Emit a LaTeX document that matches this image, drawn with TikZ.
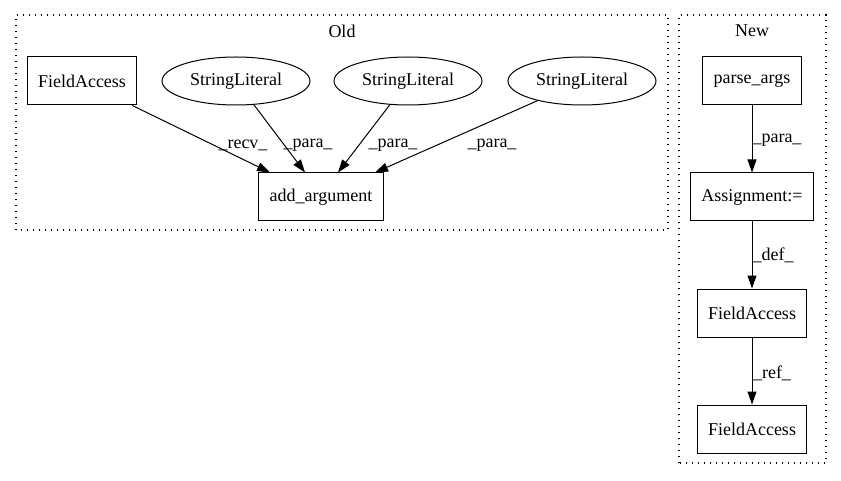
\documentclass[tikz,border=0pt]{standalone}
\usepackage{fontspec}
\setmainfont{Liberation Serif}
\usetikzlibrary{positioning, arrows.meta, shapes.geometric}

\begin{document}
\begin{tikzpicture}[x=1pt, y=1pt,
    every node/.style={font=\fontsize{18}{21}\selectfont},
    box/.style={draw, rectangle, line width=1pt, minimum height=48pt, inner xsep=11pt},
    lit/.style={draw, ellipse, line width=1pt, minimum width=148pt, minimum height=48pt, inner sep=0pt},
    elabel/.style={inner sep=0pt},
    link/.style={line width=1pt, -{Triangle[length=13pt,width=9pt]}},
    cluster/.style={draw, line width=1.2pt, dash pattern=on 1.2pt off 4.8pt}]
  \useasboundingbox (0,0) rectangle (841,480);

  % clusters
  \draw[cluster] (16,250) rectangle (668,465);
  \node (oldtitle) at (342,449) {Old};
  \draw[cluster] (679,17) rectangle (826,465);
  \node (newtitle) at (752,449) {New};

  % old
  \node[box] (fa) at (82,399) {FieldAccess};
  \node[lit, on grid, right=154pt of fa] (sl1) {StringLiteral};
  \node[lit, on grid, right=172pt of sl1] (sl2) {StringLiteral};
  \node[lit, on grid, right=174pt of sl2] (sl3) {StringLiteral};
  \node[box] (aa) at (321,283) {add\_argument};

  \draw[link] (fa) -- ([xshift=-51pt]aa.north);
  \draw[link] (sl1) -- ([xshift=-16pt]aa.north);
  \draw[link] (sl2) -- ([xshift=17pt]aa.north);
  \draw[link] (sl3) -- ([xshift=54pt]aa.north);
  \node[elabel] (lrecv) at (243,335) {\_recv\_};
  \node[elabel] (lpara1) at (308,335) {\_para\_};
  \node[elabel] (lpara2) at (393,335) {\_para\_};
  \node[elabel] (lpara3) at (492,335) {\_para\_};

  % new
  \node[box] (pa) at (752,399) {parse\_args};
  \node[box, on grid, below=116pt of pa] (asg) {Assignment:=};
  \node[box, on grid, below=116pt of asg] (fa2) {FieldAccess};
  \node[box, on grid, below=116pt of fa2] (fa3) {FieldAccess};

  \draw[link] (pa) -- (asg);
  \draw[link] (asg) -- (fa2);
  \draw[link] (fa2) -- (fa3);
  \node[elabel] (lpara4) at (777,340) {\_para\_};
  \node[elabel] (ldef) at (773,225) {\_def\_};
  \node[elabel] (lref) at (772,107) {\_ref\_};
\end{tikzpicture}
\end{document}
